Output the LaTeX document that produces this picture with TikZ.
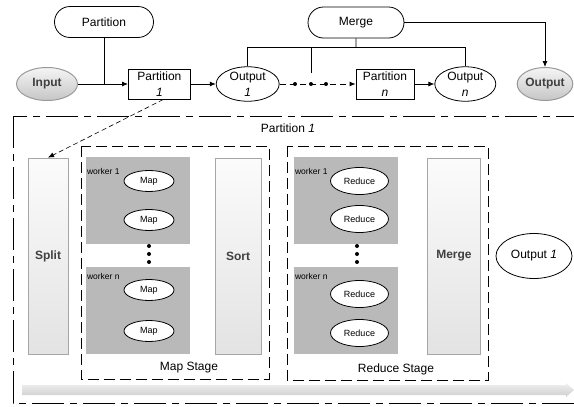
\documentclass[tikz,border=0pt]{standalone}
\usepackage{fontspec}
\setmainfont{Liberation Sans}
\usetikzlibrary{positioning,shapes.geometric,shapes.misc,arrows.meta}
\tikzset{
    pill/.style={rounded rectangle, draw, minimum width=99pt, minimum height=31pt, inner sep=0},
    partbox/.style={rectangle, draw, minimum width=62pt, minimum height=30pt, inner sep=0, align=center, font=\fontsize{12}{16}\selectfont},
    outnode/.style={ellipse, draw, minimum width=63pt, minimum height=33pt, inner sep=0, align=center, font=\fontsize{12}{16}\selectfont},
    endnode/.style={ellipse, draw=gray!80, line width=1pt, top color=gray!8, bottom color=gray!45, minimum width=61pt, minimum height=33pt, inner sep=0, text=black!75, font=\fontsize{12}{14}\selectfont\bfseries},
    bar/.style={rectangle, draw=gray!70, top color=gray!3, bottom color=gray!22, minimum height=196pt, inner sep=0, text=black!75, font=\fontsize{12}{14}\selectfont\bfseries},
    stage/.style={draw, dash pattern=on 11pt off 5pt},
    worker/.style={rectangle, fill=gray!55, minimum width=104pt, minimum height=87pt, inner sep=0},
    task/.style={ellipse, draw, fill=white, inner sep=0, font=\fontsize{9}{11}\selectfont},
    wlabel/.style={anchor=west, inner sep=1pt, font=\fontsize{8.5}{10}\selectfont},
    tinydot/.style={circle, fill=black, minimum size=4pt, inner sep=0}
}

\begin{document}
\begin{tikzpicture}[x=1pt, y=-1pt, line width=0.8pt, >={Latex[length=6pt,width=5pt]}, font=\fontsize{12}{14}\selectfont]
    \useasboundingbox (0,0) rectangle (574,407);

    % top row
    \node[endnode] (input) at (47,84) {Input};
    \node[partbox, right=50pt of input] (part1) {Partition\\\textit{1}};
    \node[outnode, right=25pt of part1] (out1) {Output\\\textit{1}};
    \node[partbox, minimum width=58pt, right=76pt of out1] (partn) {Partition\\\textit{n}};
    \node[outnode, minimum width=61pt, right=20pt of partn] (outn) {Output\\\textit{n}};
    \node[endnode, minimum width=54pt] (output) at (545,84) {Output};
    \node[pill] (partition) at (104,22) {Partition};
    \node[pill, minimum width=96pt] (merge) at (356,22.5) {Merge};

    \draw[->] (input) -- (part1);
    \draw (partition) -- (partition |- input);
    \draw[->] (part1) -- (out1);
    \draw[->] (partn) -- (outn);
    \draw[->, dash pattern=on 6pt off 4pt] (out1) -- (partn);
    \node[tinydot] (d1) at (295,84) {};
    \node[tinydot] (d2) at (311,84) {};
    \node[tinydot] (d3) at (326,84) {};

    \coordinate (bus) at ([yshift=-9pt]merge.south);
    \draw (merge) -- (bus);
    \draw (out1) |- (bus) -| (outn);
    \draw (d2 |- bus) -- ([yshift=11pt]d2.center);
    \draw[->] (merge) -| (output);

    % partition 1 in detail
    \draw[dash pattern=on 32pt off 6pt on 7pt off 6pt] (13,116) rectangle (600,403);
    \node (plabel) at (288,128) {Partition \textit{1}};

    \node[bar, minimum width=40pt] (split) at (48,256) {Split};
    \draw[->, dash pattern=on 5pt off 3pt, line width=0.6pt] ([xshift=4pt]part1.south) -- (split.north);

    % map stage
    \draw[stage] (81,146) rectangle (269,379);
    \node (mapl) at (189,368) {Map Stage};
    \node[worker] (mw1) at (138,200) {};
    \node[worker] (mwn) at (138,310) {};
    \node[wlabel] (mw1l) at ([yshift=-15pt]mw1.north west) {worker 1};
    \node[wlabel] (mwnl) at ([yshift=-10pt]mwn.north west) {worker n};
    \foreach \y [count=\i] in {181,220,290,331}
        \node[task, minimum width=50pt, minimum height=21pt] (map\i) at (149,\y) {Map};
    \foreach \y [count=\i] in {246,254,262}
        \node[tinydot] (mdot\i) at (149,\y) {};
    \node[bar, minimum width=46pt] (sort) at (238,256) {Sort};

    % reduce stage
    \draw[stage] (287,146) rectangle (488,380);
    \node (redl) at (396,369) {Reduce Stage};
    \node[worker] (rw1) at (346,200) {};
    \node[worker] (rwn) at (346,310) {};
    \node[wlabel] (rw1l) at ([yshift=-15pt]rw1.north west) {worker 1};
    \node[wlabel] (rwnl) at ([yshift=-10pt]rwn.north west) {worker n};
    \foreach \y [count=\i] in {181,219,294,333}
        \node[task, minimum width=58pt, minimum height=27pt] (red\i) at (359.5,\y) {Reduce};
    \foreach \y [count=\i] in {246,254,262}
        \node[tinydot] (rdot\i) at (357,\y) {};
    \node[bar, minimum width=53pt] (mergebar) at (454,256) {Merge};

    \node[outnode, minimum width=76pt, minimum height=45pt] (res1) at (534,256) {Output \textit{1}};

    % progress bar
    \shade[top color=gray!12, bottom color=gray!38] (22,385) -- (566,385) -- (566,383) -- (574,390) -- (566,397) -- (566,395) -- (22,395) -- cycle;
\end{tikzpicture}
\end{document}
